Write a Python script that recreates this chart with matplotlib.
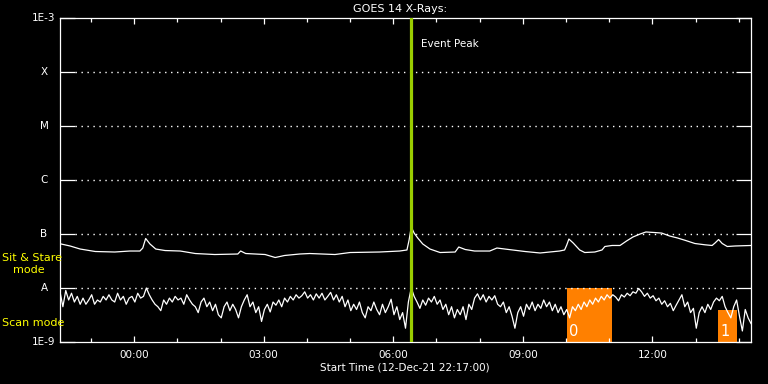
import matplotlib
matplotlib.use("Agg")
import matplotlib.pyplot as plt
import matplotlib.dates as mdates
from matplotlib.ticker import NullLocator
import pandas as pd

# ---------------- data ----------------
start = pd.Timestamp("2021-12-12 22:17:00")
end = pd.Timestamp("2021-12-13 14:17:00")

# Scan-mode channel (lower trace), nW/m^2, one sample every 4 minutes from start
scan_nw = [
    8.5, 4.5, 9, 6, 8, 5.5, 7, 5, 6.5, 5, 6, 7.5, 5, 6, 5.5, 7, 6, 7.5, 6, 5.5,
    8, 6, 7, 5, 6.5, 7, 5.5, 8, 6.5, 7, 10,
    7.5, 6, 5, 4.5, 3.8, 6, 5, 6.5, 5.5, 7, 6, 6.5, 5, 7.5, 6, 5, 4.5, 3.5,
    5.5, 6.5, 4.5, 5.5, 3.8, 5, 3.2, 2.8, 4.5, 5.5, 3.8, 5, 4, 2.8, 4.5, 6, 7.5,
    4.5, 5.5, 3.5, 4.5, 2.4, 4, 5, 3.6, 5.5, 4.8, 6, 4.5, 6.5, 5.5, 7, 6, 7.5, 6.5,
    7.2, 8.5, 6.5, 7.5, 6, 7.8, 6.5, 8, 6, 7, 8.3, 6, 7.5, 5.5, 7, 4.5, 6, 3.8, 5,
    4, 5.5, 3.5, 2.8, 4.5, 3.8, 5.5, 4, 3.2, 5, 3.5, 4.5, 6.2, 3.2, 4.5, 2.6, 3.5,
    1.8, 5.5, 10, 7, 5.5,
    4.2, 6, 4.8, 6.5, 5.5, 7, 5, 6, 4, 5, 3.2, 4.5, 2.8, 4, 3.2, 4.5, 2.6, 5, 4,
    6.5, 7.8, 6, 7.5, 5.5, 7, 6, 7.2, 5, 4.5, 5.5, 3.5, 4.5, 3, 1.8, 3.5, 4.5, 3,
    5, 4, 5.5, 3.8, 5, 4.2, 6, 4.5, 5.5, 3.8, 5, 3.5, 4.5, 3.2,
    4, 2.8, 4.5, 3.8, 5, 4, 5.5, 4.5, 6, 5, 6.5, 5.5, 7, 6, 7.5, 6.5, 7.5, 6.8,
    5.8, 7.5, 6.8, 8, 7.2, 8.5, 8, 9.8,
    8.5, 7, 8, 6.5, 7.2, 5.8, 6.5, 5, 5.8, 4.5, 5.2, 3.8, 4.8, 6, 7.5, 4.5, 5.5,
    3.5, 4.2, 1.8, 3.5, 4.5, 3.5, 5, 4, 5.5, 6.5, 5.8, 7, 4.5, 3.5, 2.8, 4.5, 6,
    3, 1.6, 4, 2.8, 2.2,
]

# Sit & Stare channel (upper trace): minutes after start, flux in 1e-8 W/m^2
ss_min = [0, 14, 28, 49, 76, 97, 111, 115, 119, 125, 133, 146, 167, 188, 215,
          247, 251, 258, 285, 299, 312, 333, 347, 382, 403, 444, 472, 482, 485,
          488, 492, 497, 504, 514, 528, 549, 554, 563, 576, 597, 607, 618, 646,
          667, 694, 701, 704, 707, 713, 722, 729, 743, 753, 757, 767, 778, 787,
          796, 806, 814, 826, 836, 847, 858, 869, 882, 896, 906, 910, 915, 920,
          927, 938, 960]
ss_val = [6.6, 6.0, 5.27, 4.74, 4.64, 4.84, 4.84, 5.5, 8.26, 6.53, 5.27, 4.94,
          4.84, 4.35, 4.17, 4.26, 4.84, 4.35, 4.17, 3.67, 4.0, 4.26, 4.35, 4.17,
          4.54, 4.64, 4.84, 5.06, 7.74, 13.5, 10.4, 8.43, 6.53, 5.27, 4.54, 4.64,
          5.74, 5.16, 4.84, 4.84, 5.5, 5.27, 4.74, 4.45, 4.84, 5.06, 6.25, 8.07,
          6.81, 5.06, 4.54, 4.64, 5.06, 5.87, 6.13, 6.13, 7.41, 8.8, 10.0, 10.9,
          10.65, 10.4, 9.18, 8.43, 7.6, 6.67, 6.31, 6.13, 6.81, 7.9, 6.67, 5.87,
          6.0, 6.13]

event_peak = pd.Timestamp("2021-12-13 06:24:00")

block_start = [pd.Timestamp("2021-12-13 10:01"), pd.Timestamp("2021-12-13 13:31")]
block_end = [pd.Timestamp("2021-12-13 11:04"), pd.Timestamp("2021-12-13 13:57")]
block_top = [1e-8, 3.9e-9]
block_label = ["0", "1"]

levels = [1e-9, 1e-8, 1e-7, 1e-6, 1e-5, 1e-4, 1e-3]
level_labels = ["1E-9", "A", "B", "C", "M", "X", "1E-3"]

# ---------------- figure ----------------
W, H = 768, 384
fig = plt.figure(figsize=(W / 100, H / 100), dpi=100, facecolor="black")
ax = fig.add_axes([60 / W, 42 / H, 691 / W, 324 / H])
ax.set_facecolor("black")
ax.set_yscale("log")
ax.set_ylim(levels[0], levels[-1])
ax.set_xlim(start, end)

for sp in ax.spines.values():
    sp.set_color("white")
    sp.set_linewidth(0.9)

# orange blocks
for s, e, top, lab in zip(block_start, block_end, block_top, block_label):
    ax.fill_between([s, e], levels[0], top, color="#ff8000", lw=0, zorder=1)
    ax.annotate(lab, xy=(s, levels[0]), xytext=(1.5, 2.5), textcoords="offset points",
                color="white", fontsize=10.5, ha="left", va="bottom", zorder=4)

# data
scan_t = pd.date_range(start, periods=len(scan_nw), freq="4min")
ax.plot(scan_t, [v * 1e-9 for v in scan_nw], color="white", lw=0.9, zorder=2)
ss_t = [start + pd.Timedelta(minutes=m) for m in ss_min]
ax.plot(ss_t, [v * 1e-8 for v in ss_val], color="white", lw=0.9, zorder=2)

# event peak
ax.axvline(event_peak, color="#9acd00", lw=2.3, zorder=3)
ax.annotate("Event Peak", xy=(event_peak, 1), xycoords=("data", "axes fraction"),
            xytext=(7.5, -19), textcoords="offset points", color="white",
            fontsize=7.5, ha="left", va="center")

# dotted level lines
ax.hlines(levels[1:-1], 15 / 691, 1 - 15 / 691, transform=ax.get_yaxis_transform(),
          colors="white", linestyles=(0, (1, 3.3)), linewidth=1.0, zorder=1.5)

# y ticks
ax.set_yticks(levels)
ax.yaxis.set_minor_locator(NullLocator())
ax.tick_params(axis="y", which="major", direction="in", length=10.5, width=0.9,
               color="white", left=True, right=True, labelleft=False)
for lv, lab in zip(levels, level_labels):
    ax.text(-16 / 691, lv, lab, transform=ax.get_yaxis_transform(), color="white",
            fontsize=7.5, ha="center", va="center")

# x ticks
ax.xaxis.set_major_locator(mdates.HourLocator(byhour=range(0, 24, 3)))
ax.xaxis.set_minor_locator(mdates.HourLocator(interval=1))
ax.xaxis.set_major_formatter(mdates.DateFormatter("%H:%M"))
ax.tick_params(axis="x", which="major", direction="in", length=4.5, width=0.9,
               color="white", labelcolor="white", labelsize=7.5, top=True, pad=6)
ax.tick_params(axis="x", which="minor", direction="in", length=3, width=0.9,
               color="white", top=True)

# texts
fig.text(400 / W, 1 - 9 / H, "GOES 14 X-Rays:", color="white", fontsize=8,
         ha="center", va="center")
fig.text(405 / W, 1 - 368 / H, "Start Time (12-Dec-21 22:17:00)", color="white",
         fontsize=7.5, ha="center", va="center")
fig.text(2 / W, 1 - 258 / H, "Sit & Stare", color="yellow", fontsize=8,
         ha="left", va="center")
fig.text(13 / W, 1 - 270 / H, "mode", color="yellow", fontsize=8,
         ha="left", va="center")
fig.text(2 / W, 1 - 323 / H, "Scan mode", color="yellow", fontsize=8,
         ha="left", va="center")

fig.savefig("out.png", dpi=100, facecolor="black")
